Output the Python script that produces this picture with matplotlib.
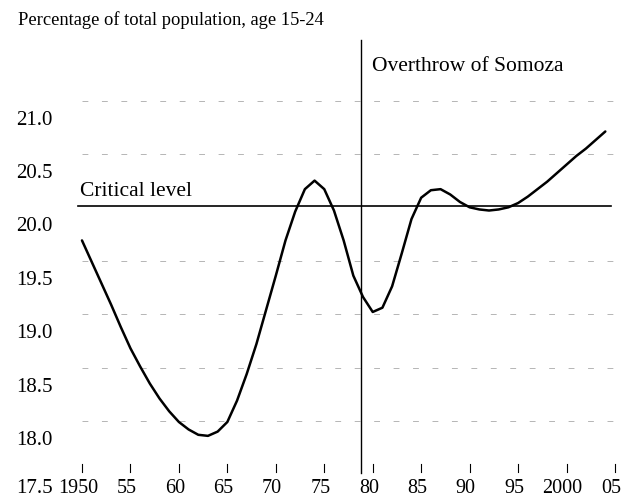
import matplotlib
matplotlib.use("Agg")
import matplotlib.pyplot as plt

years = list(range(1950, 2005))
share_15_24 = [19.85, 19.65, 19.45, 19.25, 19.04, 18.84, 18.67, 18.51, 18.37, 18.25,
               18.15, 18.08, 18.03, 18.02, 18.06, 18.15, 18.35, 18.60, 18.88, 19.20,
               19.52, 19.85, 20.12, 20.33, 20.41, 20.33, 20.13, 19.85, 19.52, 19.32,
               19.18, 19.22, 19.42, 19.73, 20.05, 20.25, 20.32, 20.33, 20.28, 20.21,
               20.16, 20.14, 20.13, 20.14, 20.16, 20.20, 20.26, 20.33, 20.40, 20.48,
               20.56, 20.64, 20.71, 20.79, 20.87]

critical_level = 20.17
overthrow_year = 1978.8
grid_levels = [18.16, 18.66, 19.16, 19.66, 20.66, 21.16]

x_ticks = [1950, 1955, 1960, 1965, 1970, 1975, 1980, 1985, 1990, 1995, 2000, 2005]
x_tick_labels = ["1950", "55", "60", "65", "70", "75", "80", "85", "90", "95", "2000", "05"]
y_ticks = [17.5, 18.0, 18.5, 19.0, 19.5, 20.0, 20.5, 21.0]
y_tick_labels = ["17.5", "18.0", "18.5", "19.0", "19.5", "20.0", "20.5", "21.0"]

plt.rcParams['font.family'] = ['Liberation Serif', 'DejaVu Serif']

W, H = 631, 499
fig = plt.figure(figsize=(W / 100, H / 100), dpi=100)

# axes placement in pixels
x0_px, x1_px = 52.9, 624.7   # 1947 .. 2006
ylo, yhi = 17.45, 21.8
px_per_unit = 106.8
y_bottom_px = 438 + (18.0 - ylo) * px_per_unit
y_top_px = 438 - (yhi - 18.0) * px_per_unit
ax = fig.add_axes([x0_px / W, 1 - y_bottom_px / H, (x1_px - x0_px) / W, (y_bottom_px - y_top_px) / H])
ax.set_xlim(1947, 2006)
ax.set_ylim(ylo, yhi)
for s in ax.spines.values():
    s.set_visible(False)

label_y = 17.53  # baseline row of bottom labels

# faint dashed grid remnants
for g in grid_levels:
    ax.plot([1950, 2005], [g, g], color='#b5b5b5', lw=0.7, ls=(0, (6, 14)), zorder=1)

# critical level
ax.plot([1949.6, 2004.6], [critical_level, critical_level], color='black', lw=1.2, zorder=2)
ax.text(1949.8, critical_level + 0.05, "Critical level", fontsize=15.5, ha='left', va='bottom')

# overthrow line
ax.plot([overthrow_year, overthrow_year], [17.67, 21.73], color='black', lw=1.0, zorder=2)
ax.text(overthrow_year + 1.1, 21.48, "Overthrow of Somoza", fontsize=15.5, ha='left', va='center')

# curve
ax.plot(years, share_15_24, color='black', lw=1.8, zorder=3, solid_capstyle='round',
        solid_joinstyle='round')

# y ticks
ax.set_yticks(y_ticks[1:])
ax.set_yticklabels(y_tick_labels[1:], fontsize=15)
ax.tick_params(axis='y', length=0, pad=0)
ax.text(-0.0, label_y, y_tick_labels[0], transform=ax.get_yaxis_transform(),
        fontsize=15, ha='right', va='center')

# x ticks (drawn manually)
ax.set_xticks([])
for xt, lab in zip(x_ticks, x_tick_labels):
    ax.plot([xt, xt], [17.68, 17.76], color='black', lw=0.8)
    ax.text(xt - 0.4, label_y, lab, fontsize=14.5, ha='center', va='center')

fig.text(18 / W, 1 - 20 / H, "Percentage of total population, age 15-24", fontsize=13.3,
         ha='left', va='center')

fig.savefig("out.png", dpi=100)
